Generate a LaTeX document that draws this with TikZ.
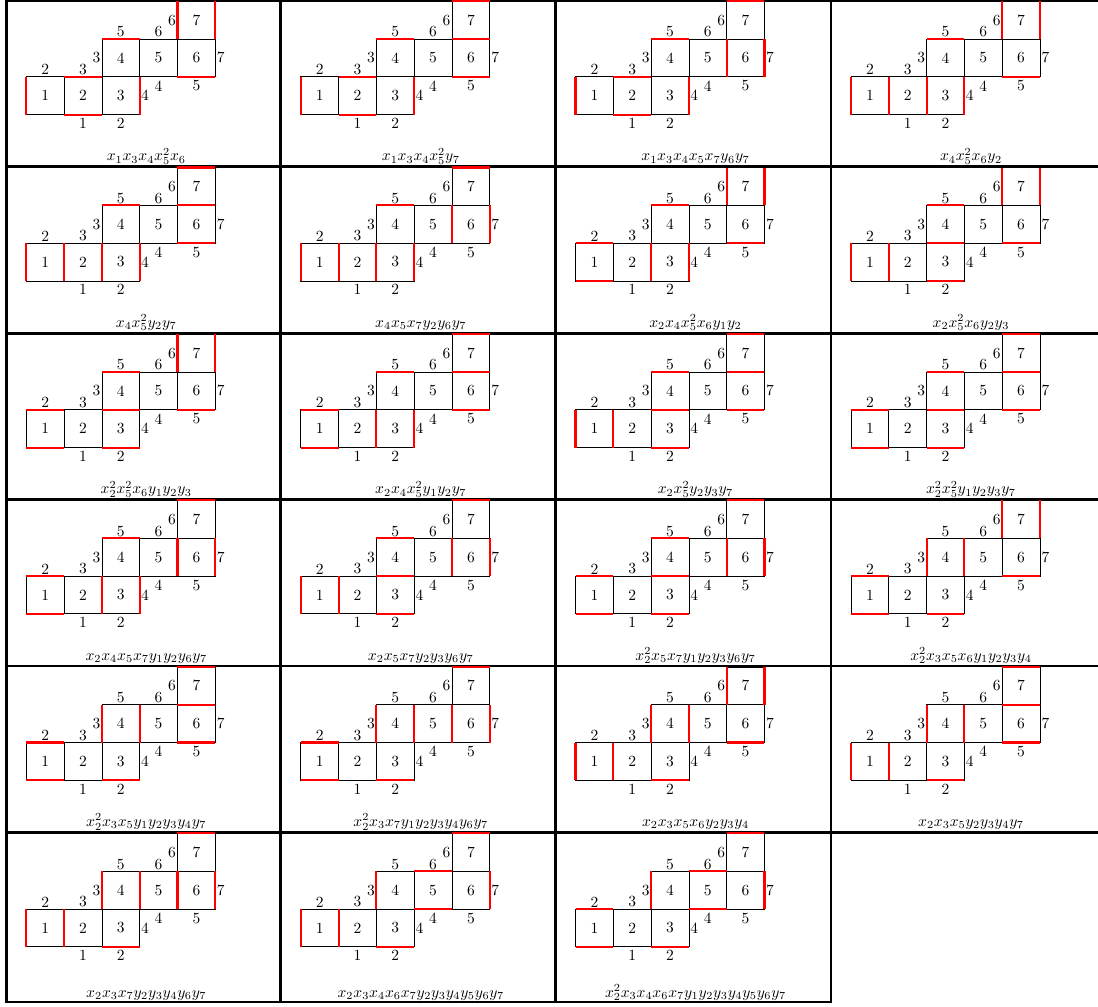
\documentclass[tikz,border=0pt]{standalone}
\tikzset{
  boxedge/.style={line width=0.5pt, draw=black},
  redge/.style={line width=1.4pt, draw=red},
  rulestyle/.style={line width=1.8pt, draw=black},
  labA/.style={above, inner sep=1pt},
  labB/.style={below, inner sep=2.2pt},
  labL/.style={left, inner sep=0.8pt},
  labR/.style={right, inner sep=0.8pt},
  capt/.style={anchor=base, inner sep=0pt},
}
\newcommand\snakecell[3]{%
\begin{scope}[shift={(#1,#2)}, x=24.38pt, y=24.38pt]
  \foreach \bx/\by/\bn in {0/0/1,1/0/2,2/0/3,2/1/4,3/1/5,4/1/6,4/2/7}{
    \draw[boxedge] (\bx,\by) rectangle ++(1,1);
    \node (b\bn) at (\bx+0.5,\by+0.5) {\bn};
  }
  \node[labA] (la) at (0.5,1) {2};
  \node[labA] (lb) at (1.5,1) {3};
  \node[labL] (lc) at (2,1.5) {3};
  \node[labA] (ld) at (2.5,2) {5};
  \node[labA] (le) at (3.5,2) {6};
  \node[labL] (lf) at (4,2.5) {6};
  \node[labR] (lg) at (5,1.5) {7};
  \node[labB] (lh) at (3.5,1) {4};
  \node[labB] (li) at (4.5,1) {5};
  \node[labR] (lj) at (3,0.5) {4};
  \node[labB] (lk) at (1.5,0) {1};
  \node[labB] (ll) at (2.5,0) {2};
  \foreach \a/\b/\c/\d in {#3}{\draw[redge] (\a,\b) -- (\c,\d);}
\end{scope}}
\begin{document}
\begin{tikzpicture}[x=0.645pt, y=-0.645pt]
\useasboundingbox (0,0) rectangle (1098,1007);
% table rules
\foreach \yy in {0.3,166.6,333.3,499.5,666,832.5}{\draw[rulestyle] (4.9,\yy) -- (1098,\yy);}
\draw[rulestyle] (4.9,1002) -- (832.4,1002);
\foreach \xx in {6.3,280.8,555.5,831}{\draw[rulestyle] (\xx,0) -- (\xx,1003.4);}
% row 1
\snakecell{26.3}{114.6}{0/0/0/1, 1/1/2/1, 1/0/2/0, 3/0/3/1, 2/2/3/2, 4/1/5/1, 4/2/4/3, 5/2/5/3}
\node[capt] (c1) at (146.3,160.8) {$x_1x_3x_4x_5^2x_6$};
\snakecell{300.8}{114.6}{0/0/0/1, 1/1/2/1, 1/0/2/0, 3/0/3/1, 2/2/3/2, 4/1/5/1, 4/2/5/2, 4/3/5/3}
\node[capt] (c2) at (420.8,160.8) {$x_1x_3x_4x_5^2y_7$};
\snakecell{575.5}{114.6}{0/0/0/1, 1/1/2/1, 1/0/2/0, 3/0/3/1, 2/2/3/2, 4/1/4/2, 5/1/5/2, 4/3/5/3}
\node[capt] (c3) at (695.5,160.8) {$x_1x_3x_4x_5x_7y_6y_7$};
\snakecell{851}{114.6}{0/0/0/1, 1/0/1/1, 2/0/2/1, 3/0/3/1, 2/2/3/2, 4/1/5/1, 4/2/4/3, 5/2/5/3}
\node[capt] (c4) at (971,160.8) {$x_4x_5^2x_6y_2$};
% row 2
\snakecell{26.3}{280.9}{0/0/0/1, 1/0/1/1, 2/0/2/1, 3/0/3/1, 2/2/3/2, 4/1/5/1, 4/2/5/2, 4/3/5/3}
\node[capt] (c5) at (146.3,327.1) {$x_4x_5^2y_2y_7$};
\snakecell{300.8}{280.9}{0/0/0/1, 1/0/1/1, 2/0/2/1, 3/0/3/1, 2/2/3/2, 4/1/4/2, 5/1/5/2, 4/3/5/3}
\node[capt] (c6) at (420.8,327.1) {$x_4x_5x_7y_2y_6y_7$};
\snakecell{575.5}{280.9}{0/1/1/1, 0/0/1/0, 2/0/2/1, 3/0/3/1, 2/2/3/2, 4/1/5/1, 4/2/4/3, 5/2/5/3}
\node[capt] (c7) at (695.5,327.1) {$x_2x_4x_5^2x_6y_1y_2$};
\snakecell{851}{280.9}{0/0/0/1, 1/0/1/1, 2/1/3/1, 2/0/3/0, 2/2/3/2, 4/1/5/1, 4/2/4/3, 5/2/5/3}
\node[capt] (c8) at (971,327.1) {$x_2x_5^2x_6y_2y_3$};
% row 3
\snakecell{26.3}{447.6}{0/1/1/1, 0/0/1/0, 2/1/3/1, 2/0/3/0, 2/2/3/2, 4/1/5/1, 4/2/4/3, 5/2/5/3}
\node[capt] (c9) at (146.3,493.8) {$x_2^2x_5^2x_6y_1y_2y_3$};
\snakecell{300.8}{447.6}{0/1/1/1, 0/0/1/0, 2/0/2/1, 3/0/3/1, 2/2/3/2, 4/1/5/1, 4/2/5/2, 4/3/5/3}
\node[capt] (c10) at (420.8,493.8) {$x_2x_4x_5^2y_1y_2y_7$};
\snakecell{575.5}{447.6}{0/0/0/1, 1/0/1/1, 2/1/3/1, 2/0/3/0, 2/2/3/2, 4/1/5/1, 4/2/5/2, 4/3/5/3}
\node[capt] (c11) at (695.5,493.8) {$x_2x_5^2y_2y_3y_7$};
\snakecell{851}{447.6}{0/1/1/1, 0/0/1/0, 2/1/3/1, 2/0/3/0, 2/2/3/2, 4/1/5/1, 4/2/5/2, 4/3/5/3}
\node[capt] (c12) at (971,493.8) {$x_2^2x_5^2y_1y_2y_3y_7$};
% row 4
\snakecell{26.3}{613.8}{0/1/1/1, 0/0/1/0, 2/0/2/1, 3/0/3/1, 2/2/3/2, 4/1/4/2, 5/1/5/2, 4/3/5/3}
\node[capt] (c13) at (146.3,660) {$x_2x_4x_5x_7y_1y_2y_6y_7$};
\snakecell{300.8}{613.8}{0/0/0/1, 1/0/1/1, 2/1/3/1, 2/0/3/0, 2/2/3/2, 4/1/4/2, 5/1/5/2, 4/3/5/3}
\node[capt] (c14) at (420.8,660) {$x_2x_5x_7y_2y_3y_6y_7$};
\snakecell{575.5}{613.8}{0/1/1/1, 0/0/1/0, 2/1/3/1, 2/0/3/0, 2/2/3/2, 4/1/4/2, 5/1/5/2, 4/3/5/3}
\node[capt] (c15) at (695.5,660) {$x_2^2x_5x_7y_1y_2y_3y_6y_7$};
\snakecell{851}{613.8}{0/1/1/1, 0/0/1/0, 2/0/3/0, 2/1/2/2, 3/1/3/2, 4/1/5/1, 4/2/4/3, 5/2/5/3}
\node[capt] (c16) at (971,660) {$x_2^2x_3x_5x_6y_1y_2y_3y_4$};
% row 5
\snakecell{26.3}{780.3}{0/1/1/1, 0/0/1/0, 2/0/3/0, 2/1/2/2, 3/1/3/2, 4/1/5/1, 4/2/5/2, 4/3/5/3}
\node[capt] (c17) at (146.3,826.5) {$x_2^2x_3x_5y_1y_2y_3y_4y_7$};
\snakecell{300.8}{780.3}{0/1/1/1, 0/0/1/0, 2/0/3/0, 2/1/2/2, 3/1/3/2, 4/1/4/2, 5/1/5/2, 4/3/5/3}
\node[capt] (c18) at (420.8,826.5) {$x_2^2x_3x_7y_1y_2y_3y_4y_6y_7$};
\snakecell{575.5}{780.3}{0/0/0/1, 1/0/1/1, 2/0/3/0, 2/1/2/2, 3/1/3/2, 4/1/5/1, 4/2/4/3, 5/2/5/3}
\node[capt] (c19) at (695.5,826.5) {$x_2x_3x_5x_6y_2y_3y_4$};
\snakecell{851}{780.3}{0/0/0/1, 1/0/1/1, 2/0/3/0, 2/1/2/2, 3/1/3/2, 4/1/5/1, 4/2/5/2, 4/3/5/3}
\node[capt] (c20) at (971,826.5) {$x_2x_3x_5y_2y_3y_4y_7$};
% row 6
\snakecell{26.3}{946.8}{0/0/0/1, 1/0/1/1, 2/0/3/0, 2/1/2/2, 3/1/3/2, 4/1/4/2, 5/1/5/2, 4/3/5/3}
\node[capt] (c21) at (146.3,997) {$x_2x_3x_7y_2y_3y_4y_6y_7$};
\snakecell{300.8}{946.8}{0/0/0/1, 1/0/1/1, 2/0/3/0, 2/1/2/2, 3/1/4/1, 3/2/4/2, 5/1/5/2, 4/3/5/3}
\node[capt] (c22) at (420.8,997) {$x_2x_3x_4x_6x_7y_2y_3y_4y_5y_6y_7$};
\snakecell{575.5}{946.8}{0/1/1/1, 0/0/1/0, 2/0/3/0, 2/1/2/2, 3/1/4/1, 3/2/4/2, 5/1/5/2, 4/3/5/3}
\node[capt] (c23) at (695.5,997) {$x_2^2x_3x_4x_6x_7y_1y_2y_3y_4y_5y_6y_7$};
\end{tikzpicture}
\end{document}
